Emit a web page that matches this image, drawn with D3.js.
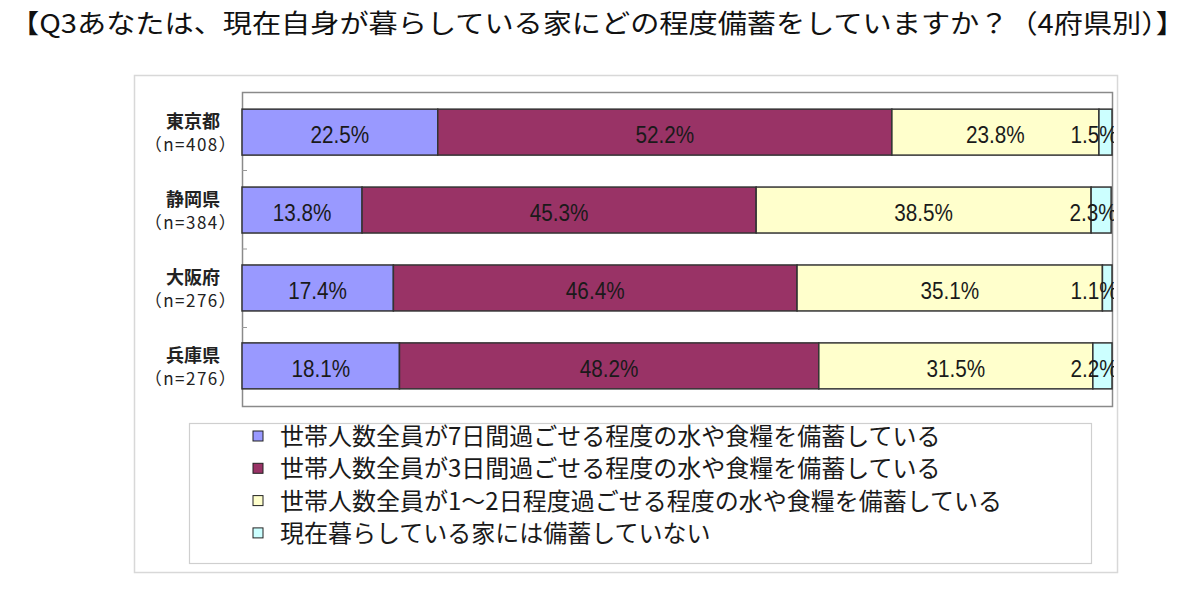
<!DOCTYPE html>
<html lang="ja">
<head>
<meta charset="UTF-8">
<title>Q3 備蓄の程度（4府県別）</title>
<script src="https://d3js.org/d3.v7.min.js"></script>
<style>
  body { margin: 0; background: #fff; font-family: "Noto Sans CJK JP", "Noto Sans", sans-serif; }
  svg { display: block; }
</style>
</head>
<body>
<div id="chart"></div>
<script>
// data
const prefectures = ["東京都", "静岡県", "大阪府", "兵庫県"];
const sampleSizes = ["（n=408）", "（n=384）", "（n=276）", "（n=276）"];
const seriesNames = [
  "世帯人数全員が7日間過ごせる程度の水や食糧を備蓄している",
  "世帯人数全員が3日間過ごせる程度の水や食糧を備蓄している",
  "世帯人数全員が1～2日程度過ごせる程度の水や食糧を備蓄している",
  "現在暮らしている家には備蓄していない"
];
const days7 = [22.5, 13.8, 17.4, 18.1];
const days3 = [52.2, 45.3, 46.4, 48.2];
const days1to2 = [23.8, 38.5, 35.1, 31.5];
const none = [1.5, 2.3, 1.1, 2.2];
const colors = ["#9999ff", "#993366", "#ffffcc", "#ccffff"];

const W = 1200, H = 593;
const plot = { left: 242, top: 92, right: 1112, bottom: 406 };
const jp = "'Noto Sans CJK JP', sans-serif";

const svg = d3.select("#chart").append("svg")
  .attr("width", W).attr("height", H);

// title
svg.append("text")
  .attr("x", 10).attr("y", 33)
  .attr("font-size", 26)
  .attr("font-family", jp)
  .attr("textLength", 1175)
  .attr("lengthAdjust", "spacingAndGlyphs")
  .attr("fill", "#111")
  .text("【Q3あなたは、現在自身が暮らしている家にどの程度備蓄をしていますか？（4府県別）】");

// outer chart frame
svg.append("rect")
  .attr("x", 134.5).attr("y", 75.5)
  .attr("width", 983).attr("height", 497)
  .attr("fill", "none").attr("stroke", "#d8d8d8").attr("stroke-width", 1.5);

const x = d3.scaleLinear().domain([0, 100]).range([plot.left, plot.right]);
const y = d3.scaleBand().domain(prefectures).range([plot.top, plot.bottom]).paddingInner(0.41).paddingOuter(0.22);

// plot area border
svg.append("rect")
  .attr("x", plot.left + 0.5).attr("y", plot.top + 0.5)
  .attr("width", plot.right - plot.left).attr("height", plot.bottom - plot.top)
  .attr("fill", "#fff").attr("stroke", "#8a8a8a").attr("stroke-width", 1.5);

// category ticks between bands
svg.append("g").selectAll("line")
  .data(d3.range(1, prefectures.length))
  .join("line")
  .attr("x1", plot.left).attr("x2", plot.left + 5)
  .attr("y1", i => plot.top + i * (plot.bottom - plot.top) / prefectures.length)
  .attr("y2", i => plot.top + i * (plot.bottom - plot.top) / prefectures.length)
  .attr("stroke", "#999");

// stack
const rows = prefectures.map((p, i) => ({ p, vals: [days7[i], days3[i], days1to2[i], none[i]] }));
const segments = [];
rows.forEach(r => {
  let acc = 0;
  r.vals.forEach((v, k) => {
    segments.push({ p: r.p, k, v, x0: acc, x1: acc + v });
    acc += v;
  });
});

svg.append("defs").append("clipPath").attr("id", "plotclip")
  .append("rect")
  .attr("x", plot.left).attr("y", plot.top)
  .attr("width", x(100) - plot.left + 2).attr("height", plot.bottom - plot.top);

svg.append("g").selectAll("rect")
  .data(segments)
  .join("rect")
  .attr("x", d => x(d.x0))
  .attr("y", d => y(d.p))
  .attr("width", d => x(d.x1) - x(d.x0))
  .attr("height", y.bandwidth())
  .attr("fill", d => colors[d.k])
  .attr("stroke", "#333")
  .attr("stroke-width", 1.5);

const labels = svg.append("g").attr("clip-path", "url(#plotclip)")
  .selectAll("text")
  .data(segments)
  .join("text")
  .attr("x", d => d.k === 3 ? x(d.x1) - 18 : (x(d.x0) + x(d.x1)) / 2)
  .attr("y", d => y(d.p) + y.bandwidth() / 2 + 11)
  .attr("text-anchor", "middle")
  .attr("font-size", 23)
  .attr("font-family", "'Liberation Sans', Arial, sans-serif")
  .attr("fill", "#1a1a1a")
  .text(d => d.v.toFixed(1) + "%");
// narrower digits like the original
labels.each(function() {
  const w = this.getComputedTextLength();
  d3.select(this).attr("textLength", w * 0.9).attr("lengthAdjust", "spacingAndGlyphs");
});

// category labels
const cat = svg.append("g");
prefectures.forEach((p, i) => {
  const cy = y(p) + y.bandwidth() / 2;
  cat.append("text")
    .attr("x", 193).attr("y", cy - 4)
    .attr("text-anchor", "middle")
    .attr("font-size", 18).attr("font-weight", "bold")
    .attr("font-family", jp)
    .attr("fill", "#222")
    .text(p);
  cat.append("text")
    .attr("x", 191).attr("y", cy + 19)
    .attr("text-anchor", "middle")
    .attr("font-size", 17)
    .attr("letter-spacing", 1.5)
    .attr("font-family", jp)
    .attr("fill", "#222")
    .text(sampleSizes[i]);
});

// legend
svg.append("rect")
  .attr("x", 189.5).attr("y", 423.5)
  .attr("width", 902).attr("height", 140)
  .attr("fill", "#fff").attr("stroke", "#cfcfcf").attr("stroke-width", 1.2);

const lg = svg.append("g").selectAll("g")
  .data(seriesNames)
  .join("g")
  .attr("transform", (d, i) => `translate(253, ${436 + i * 32.3})`);
lg.append("rect")
  .attr("x", 0).attr("y", -5)
  .attr("width", 10).attr("height", 10)
  .attr("fill", (d, i) => colors[i])
  .attr("stroke", "#222").attr("stroke-width", 1);
lg.append("text")
  .attr("x", 27).attr("y", 9)
  .attr("font-size", 24)
  .attr("font-family", jp)
  .attr("fill", "#1a1a1a")
  .text(d => d);
</script>
</body>
</html>
